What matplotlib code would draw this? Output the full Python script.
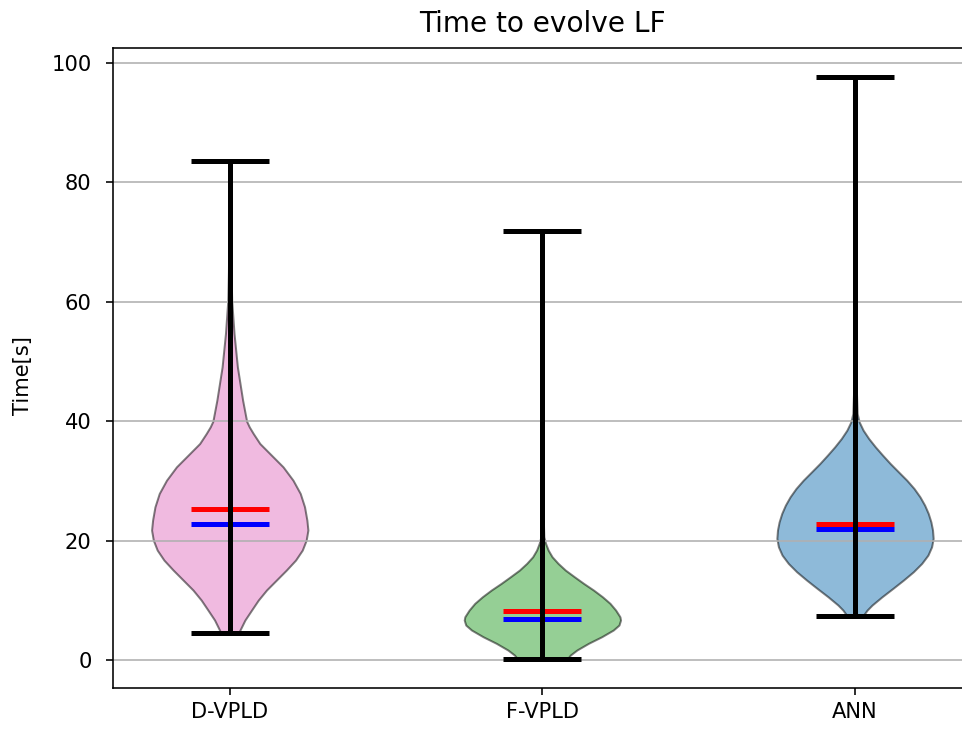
import matplotlib
matplotlib.use("Agg")
import matplotlib.pyplot as plt

# Methods compared
methods = ["D-VPLD", "F-VPLD", "ANN"]
body_colors = ["#e377c2", "#2ca02c", "#1f77b4"]

# Summary statistics of evolution time [s]
means = [25.4, 8.3, 22.8]
medians = [22.8, 6.9, 22.0]
minima = [4.6, 0.2, 7.5]
maxima = [83.5, 71.8, 97.6]

# Kernel density profiles (relative density at each time value)
dvpld_t = [4.6, 5.08, 6.75, 8.42, 10.09, 11.77, 13.44, 15.11, 16.78, 18.45, 20.12,
           21.79, 23.46, 25.68, 27.92, 30.14, 32.37, 34.6, 36.27, 37.94, 39.05, 40.0,
           43.51, 49.07, 54.65, 60.2, 65.0, 70.0, 76.0, 83.5]
dvpld_d = [0.114, 0.131, 0.194, 0.279, 0.365, 0.470, 0.597, 0.724, 0.842, 0.928, 0.978,
           1.000, 0.987, 0.957, 0.902, 0.809, 0.682, 0.512, 0.385, 0.301, 0.250, 0.216,
           0.165, 0.098, 0.055, 0.025, 0.017, 0.012, 0.008, 0.004]

fvpld_t = [0.2, 0.90, 1.74, 2.86, 3.96, 5.08, 5.91, 6.75, 7.30, 8.42, 9.54, 10.64,
           11.76, 12.88, 13.99, 15.10, 16.22, 17.33, 18.45, 19.56, 20.67, 23.0, 30.0,
           40.0, 55.0, 71.8]
fvpld_d = [0.315, 0.358, 0.442, 0.590, 0.759, 0.907, 0.980, 1.000, 0.992, 0.937, 0.865,
           0.768, 0.654, 0.527, 0.409, 0.294, 0.201, 0.124, 0.074, 0.041, 0.019, 0.013,
           0.010, 0.007, 0.005, 0.003]

ann_t = [7.5, 8.42, 9.26, 10.64, 12.05, 13.43, 14.82, 16.22, 17.61, 19.00, 20.40, 21.79,
         23.17, 24.58, 25.96, 27.35, 28.75, 30.14, 31.53, 32.93, 34.32, 35.71, 37.11,
         38.50, 39.89, 41.28, 45.0, 55.0, 70.0, 85.0, 97.6]
ann_d = [0.104, 0.155, 0.218, 0.345, 0.485, 0.619, 0.746, 0.853, 0.933, 0.980, 1.000, 0.992,
         0.971, 0.937, 0.891, 0.831, 0.755, 0.662, 0.556, 0.450, 0.353, 0.260, 0.175,
         0.104, 0.053, 0.028, 0.018, 0.012, 0.008, 0.005, 0.003]

coords = [dvpld_t, fvpld_t, ann_t]
dens = [dvpld_d, fvpld_d, ann_d]

vpstats = [
    dict(coords=c, vals=d, mean=m, median=md, min=lo, max=hi)
    for c, d, m, md, lo, hi in zip(coords, dens, means, medians, minima, maxima)
]

fig = plt.figure(figsize=(962 / 144, 731 / 144), dpi=144)
ax = fig.add_axes([0.11695, 0.0584, 0.8937, 0.8763])

parts = ax.violin(vpstats, positions=[1, 2, 3], widths=0.5,
                  showmeans=True, showmedians=True, showextrema=True)

for body, col in zip(parts["bodies"], body_colors):
    body.set_facecolor(col)
    body.set_edgecolor("black")
    body.set_linewidth(1.0)
    body.set_alpha(0.5)

for key in ("cmaxes", "cmins", "cbars"):
    parts[key].set_color("black")
    parts[key].set_linewidth(2.5)
    parts[key].set_zorder(3)
parts["cmeans"].set_color("red")
parts["cmeans"].set_linewidth(2.5)
parts["cmedians"].set_color("blue")
parts["cmedians"].set_linewidth(2.5)

ax.set_xticks([1, 2, 3], methods)
ax.yaxis.grid(True)
ax.set_ylabel("Time[s]", fontsize=10.5)
ax.yaxis.set_label_coords(-0.092, 0.4875)
ax.set_title("Time to evolve LF", fontsize=14, pad=8)
ax.tick_params(labelsize=10.5)
ax.tick_params(axis="y", pad=7)

fig.savefig("out.png", dpi=144)
